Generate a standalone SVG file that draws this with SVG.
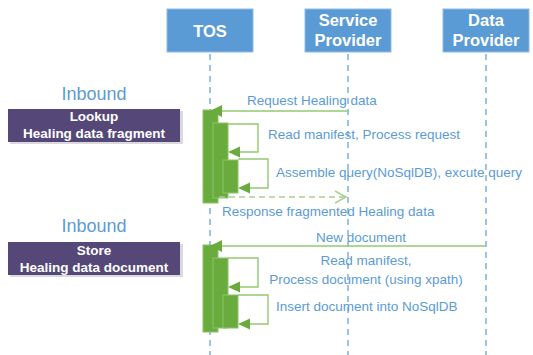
<svg xmlns="http://www.w3.org/2000/svg" width="533" height="355" viewBox="0 0 533 355">
  <style>
    .head { fill: #5b9bd5; stroke: #8fbbe3; stroke-width: 1; }
    .headtxt { fill: #ffffff; font-family: "Liberation Sans", Arial, sans-serif; font-weight: bold; font-size: 16.5px; text-anchor: middle; }
    .life { stroke: #5b9bd5; stroke-width: 1.2; stroke-dasharray: 6 5; fill: none; }
    .section { fill: #5b9bd5; font-family: "Liberation Sans", Arial, sans-serif; font-size: 18px; text-anchor: middle; }
    .band { fill: #554878; }
    .bandshadow { fill: #d9d9de; }
    .bandtxt { fill: #ffffff; font-family: "Liberation Sans", Arial, sans-serif; font-weight: bold; font-size: 13.5px; text-anchor: middle; }
    .bar { fill: #6aab3d; stroke: #8cc46a; stroke-width: 1; }
    .msg { stroke: #93c872; stroke-width: 1.4; fill: none; }
    .ret { stroke: #a9d18e; stroke-width: 1.5; fill: none; stroke-dasharray: 6 4; }
    .head-arrow { fill: #6aab3d; }
    .lbl { fill: #5b9bd5; font-family: "Liberation Sans", Arial, sans-serif; font-size: 13.5px; }
  </style>

  <!-- lifelines -->
  <g id="lifelines">
    <line class="life" x1="210" y1="54" x2="210" y2="355"/>
    <line class="life" x1="348" y1="54" x2="348" y2="355"/>
    <line class="life" x1="486" y1="54" x2="486" y2="355"/>
  </g>

  <!-- participants -->
  <g id="tos">
    <rect class="head" x="167" y="9" width="86" height="43"/>
    <text class="headtxt" x="210" y="37">TOS</text>
  </g>
  <g id="service-provider">
    <rect class="head" x="305" y="9" width="86" height="43"/>
    <text class="headtxt" x="348" y="26">Service</text>
    <text class="headtxt" x="348" y="46">Provider</text>
  </g>
  <g id="data-provider">
    <rect class="head" x="443" y="9" width="86" height="43"/>
    <text class="headtxt" x="486" y="26">Data</text>
    <text class="headtxt" x="486" y="46">Provider</text>
  </g>

  <!-- section: lookup -->
  <g id="lookup-label">
    <text class="section" x="94" y="100">Inbound</text>
    <rect class="bandshadow" x="10" y="111" width="173" height="33"/>
    <rect class="band" x="8" y="109" width="172" height="33"/>
    <text class="bandtxt" x="94" y="121">Lookup</text>
    <text class="bandtxt" x="94" y="138">Healing data fragment</text>
  </g>

  <!-- section: store -->
  <g id="store-label">
    <text class="section" x="94" y="232">Inbound</text>
    <rect class="bandshadow" x="10" y="244" width="173" height="33"/>
    <rect class="band" x="8" y="242" width="172" height="33"/>
    <text class="bandtxt" x="94" y="255">Store</text>
    <text class="bandtxt" x="94" y="272">Healing data document</text>
  </g>

  <!-- activation bars -->
  <g id="activation-lookup">
    <rect class="bar" x="203" y="110" width="15" height="93"/>
    <rect class="bar" x="213" y="123" width="15" height="75"/>
    <rect class="bar" x="223" y="160" width="15" height="33"/>
  </g>
  <g id="activation-store">
    <rect class="bar" x="203" y="245" width="15" height="87"/>
    <rect class="bar" x="213" y="258" width="15" height="70"/>
    <rect class="bar" x="223" y="295" width="15" height="33"/>
  </g>

  <!-- messages -->
  <g id="connectors">
    <!-- lookup -->
    <line class="msg" x1="348" y1="111" x2="220" y2="111"/>
    <polygon class="head-arrow" points="210,111 222,105 222,117"/>
    <polyline class="msg" points="228,124 258,124 258,152 238,152"/>
    <polygon class="head-arrow" points="228,152 240,146.5 240,157.5"/>
    <polyline class="msg" points="238,159 268,159 268,188 248,188"/>
    <polygon class="head-arrow" points="238,188 250,182.5 250,193.5"/>
    <line class="ret" x1="219" y1="197" x2="345" y2="197"/>
    <polyline points="335,191 346,197 335,203" fill="none" stroke="#a9d18e" stroke-width="1.5"/>

    <!-- store -->
    <line class="msg" x1="486" y1="246" x2="220" y2="246"/>
    <polygon class="head-arrow" points="210,246 222,240 222,252"/>
    <polyline class="msg" points="228,258 258,258 258,287 238,287"/>
    <polygon class="head-arrow" points="228,287 240,281.5 240,292.5"/>
    <polyline class="msg" points="238,295 268,295 268,324 248,324"/>
    <polygon class="head-arrow" points="238,324 250,318.5 250,329.5"/>
  </g>

  <!-- message labels -->
  <g id="labels">
    <text class="lbl" x="247" y="105">Request Healing data</text>
    <text class="lbl" x="268" y="139">Read manifest, Process request</text>
    <text class="lbl" x="276" y="177">Assemble query(NoSqlDB), excute query</text>
    <text class="lbl" x="222" y="216">Response fragmented Healing data</text>
    <text class="lbl" x="361" y="242" text-anchor="middle">New document</text>
    <text class="lbl" x="366" y="265" text-anchor="middle">Read manifest,</text>
    <text class="lbl" x="366" y="284" text-anchor="middle">Process document (using xpath)</text>
    <text class="lbl" x="276" y="311">Insert document into NoSqlDB</text>
  </g>
</svg>
